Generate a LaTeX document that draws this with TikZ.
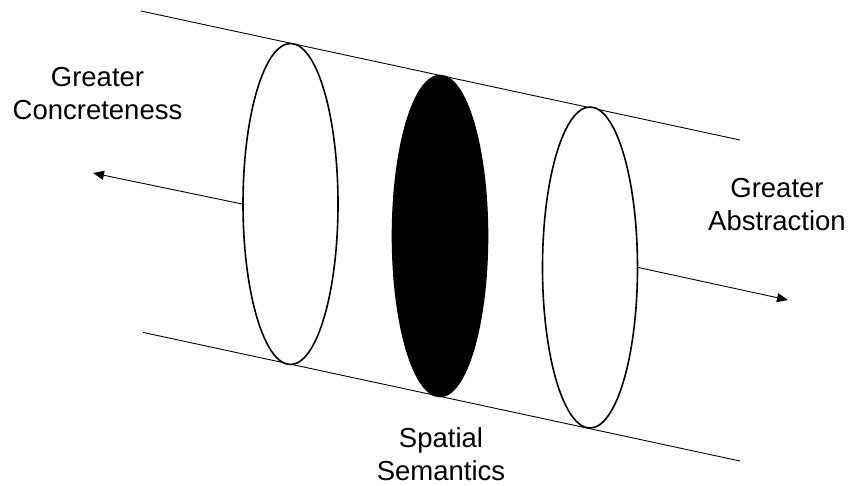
\documentclass[tikz,border=0pt]{standalone}
\usepackage{fontspec}
\setmainfont{Liberation Sans}
\usetikzlibrary{arrows.meta,shapes.geometric}
\begin{document}
\begin{tikzpicture}[x=1pt,y=-1pt,
  disc/.style={ellipse,draw,line width=1.6pt,minimum width=95pt,minimum height=321pt,inner sep=0pt},
  guide/.style={line width=0.9pt},
  arr/.style={line width=0.9pt,-{Triangle[length=11pt,width=9pt]}},
  lbl/.style={align=center,inner sep=0pt,anchor=base,font=\fontsize{27.5}{33}\selectfont}]
\useasboundingbox (0,0) rectangle (849,485);
\coordinate (t1) at (141,11);
\coordinate (t2) at (740,140);
\coordinate (b1) at (143,332.4);
\coordinate (b2) at (740,461);
\draw[guide] (t1) -- (t2);
\draw[guide] (b1) -- (b2);
\node[disc,fill=white] (L) at (290.5,204) {};
\node[disc,fill=black] (M) at (440,236) {};
\node[disc,fill=white] (R) at (590,267.5) {};
\coordinate (tipL) at (93,173);
\coordinate (tipR) at (788,300);
\draw[arr] (L.west) -- (tipL);
\draw[arr] (R.east) -- (tipR);
\node[lbl] (gc) at (97.5,119) {Greater\\Concreteness};
\node[lbl] (ga) at (777,230) {Greater\\Abstraction};
\node[lbl] (ss) at (441,480) {Spatial\\Semantics};
\end{tikzpicture}
\end{document}
